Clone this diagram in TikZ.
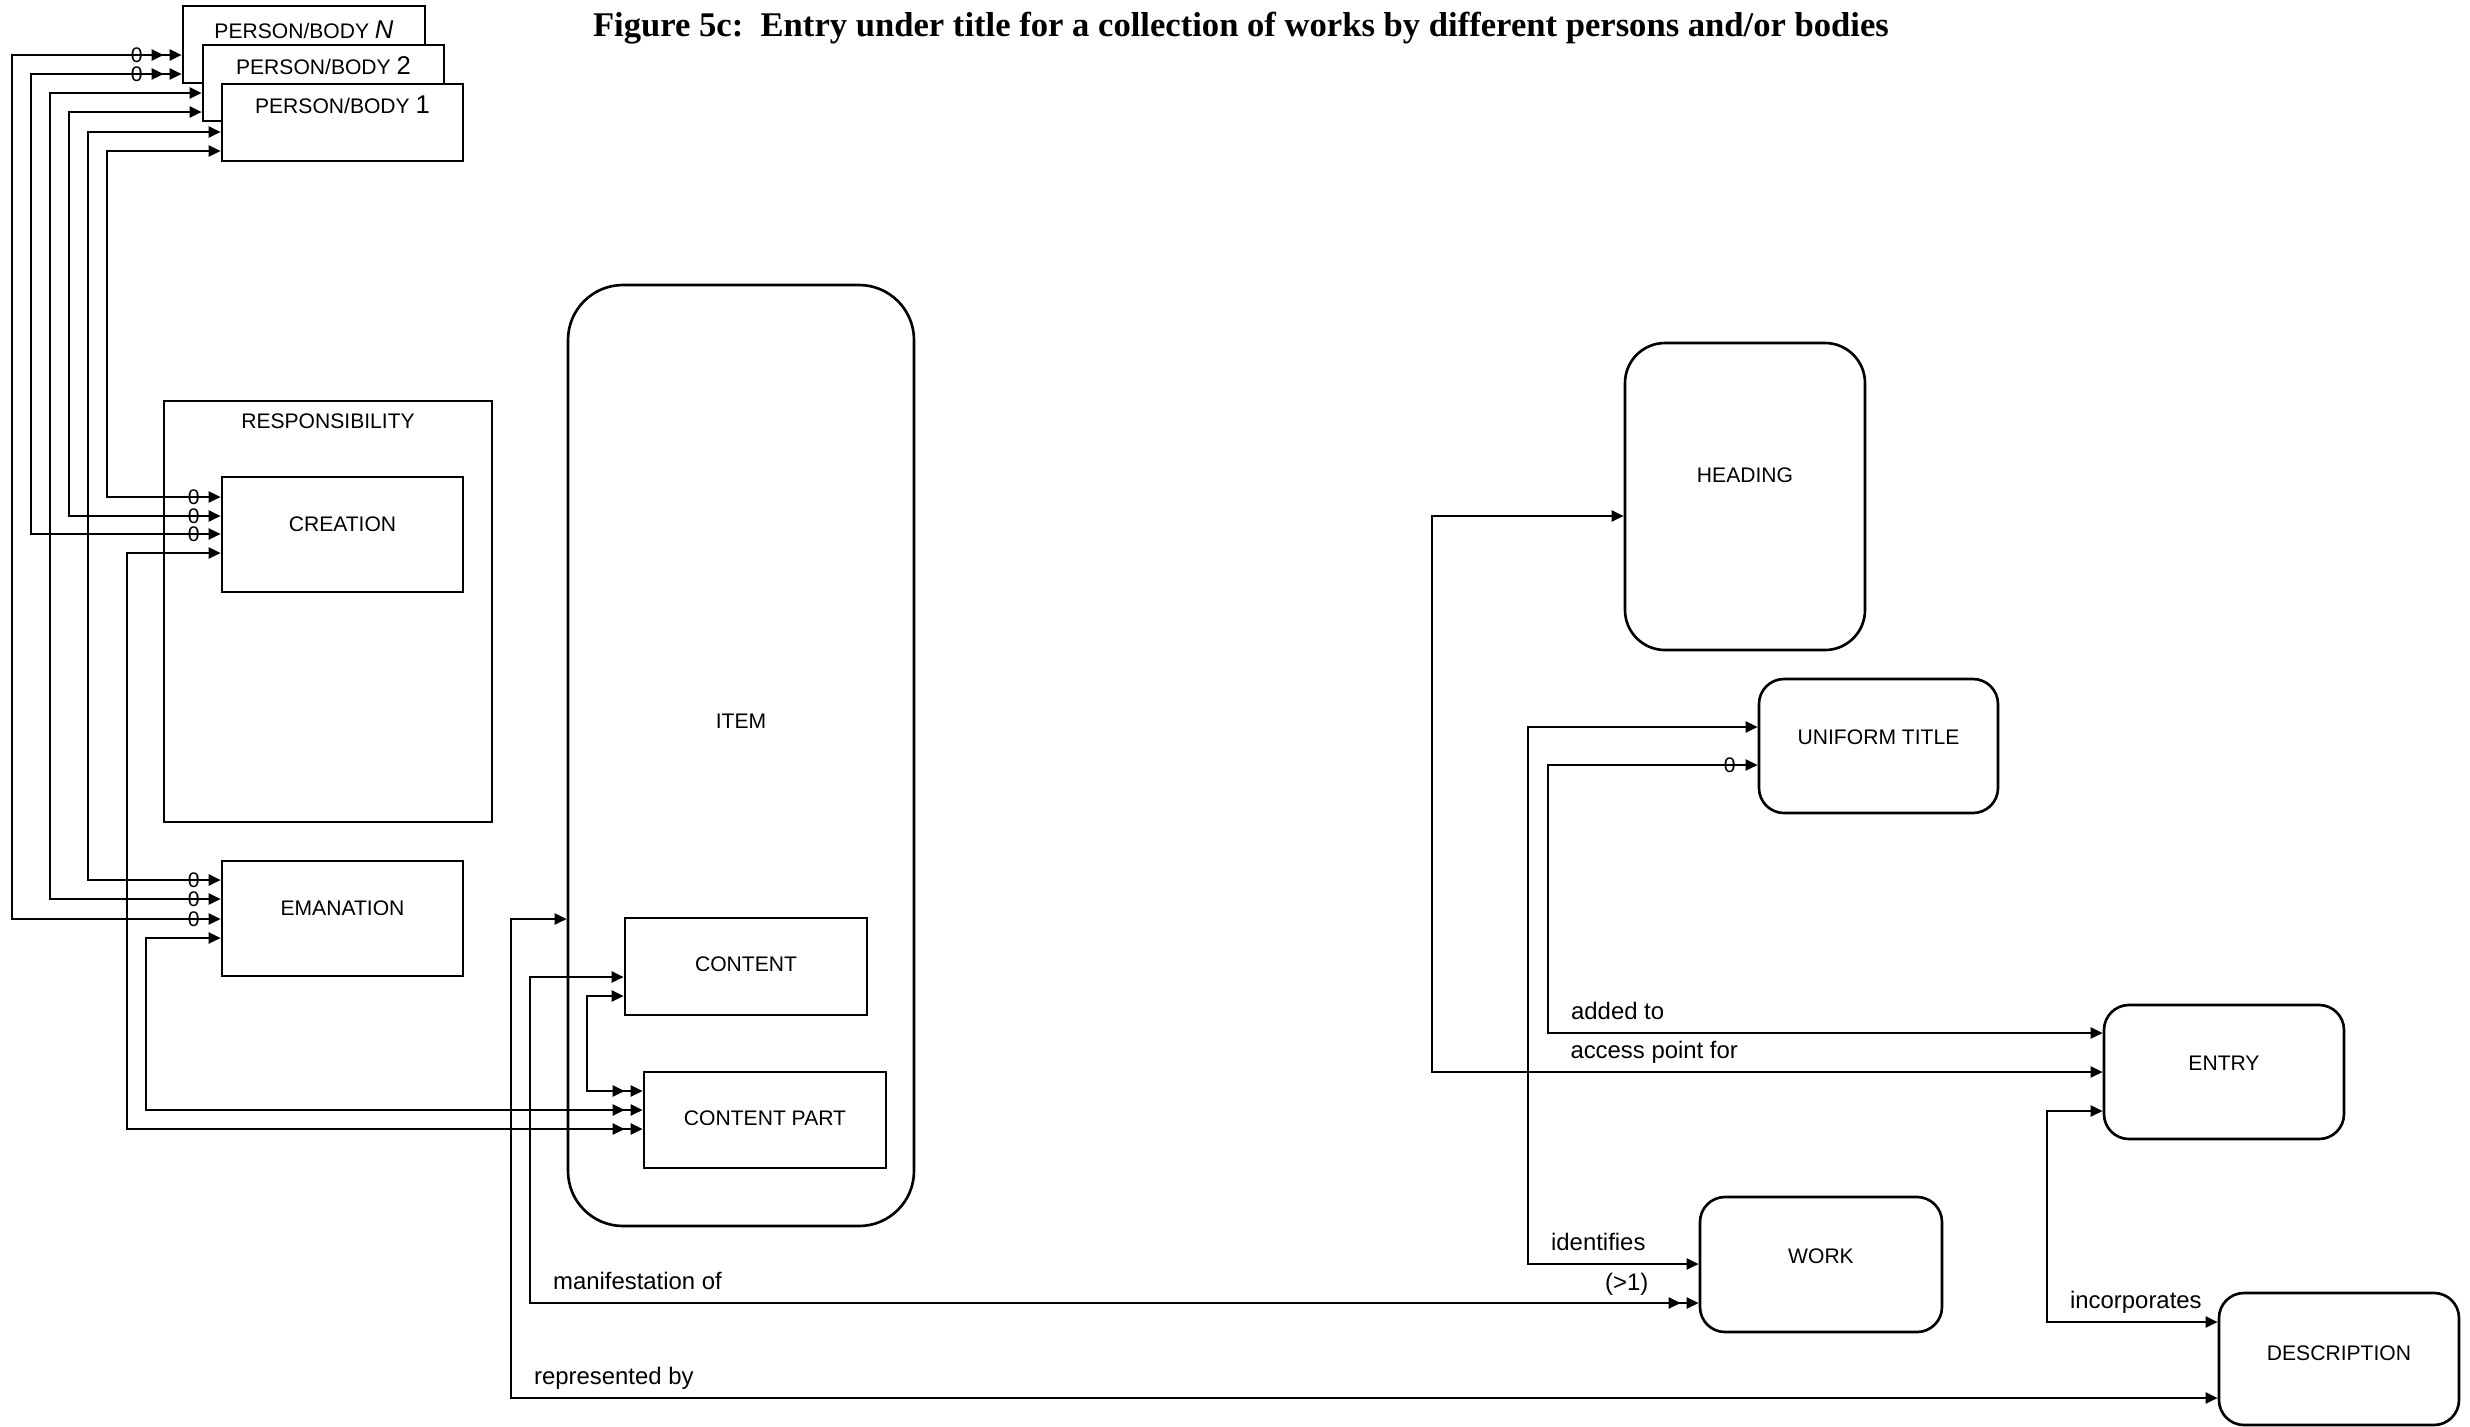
\documentclass[tikz,border=0pt]{standalone}
\usepackage{fontspec}
\setmainfont{Liberation Sans}
\newfontfamily\titlefont{Liberation Serif}
\usetikzlibrary{arrows.meta}
\newcommand\bignum[1]{{\fontsize{7.3}{8}\selectfont #1}}

\begin{document}
\begin{tikzpicture}[x=.1mm,y=-.1mm,line width=.65pt,font=\fontsize{6}{7.2}\selectfont,
  box/.style={draw,fill=white,inner sep=0,line width=.75pt},
  rbox/.style={box,rounded corners=2.5mm},
  txt/.style={inner sep=0},
  zero/.style={inner sep=0,font=\fontsize{6}{6}\selectfont},
  lbl/.style={inner sep=0,anchor=base west,xshift=2.2mm,yshift=1.4mm,font=\fontsize{6.8}{8}\selectfont},
  ss/.style={{Triangle[length=1.2mm,width=1.1mm]}-{Triangle[length=1.2mm,width=1.1mm]}},
  sd/.style={{Triangle[length=1.2mm,width=1.1mm]}-{Triangle[length=1.2mm,width=1.1mm,sep=.6mm]Triangle[length=1.2mm,width=1.1mm]}}]
\useasboundingbox (0,0) rectangle (2470,1427);
\node[anchor=base,font=\titlefont\bfseries\fontsize{9.85}{11}\selectfont] (title) at (1241,36)
  {Figure 5c:~~Entry under title for a collection of works by different persons and/or bodies};
% persons / bodies
\node[box,minimum width=24.2mm,minimum height=7.7mm] (pbN) at (304,44.5) {};
\node[txt] (pbNL) at ([yshift=1.45mm]pbN.center) {PERSON/BODY \bignum{\textit{N}}};
\node[box,minimum width=24.1mm,minimum height=7.6mm] (pb2) at (323.5,83) {};
\node[txt] (pb2L) at ([yshift=1.7mm]pb2.center) {PERSON/BODY \bignum{2}};
\node[box,minimum width=24.1mm,minimum height=7.7mm] (pb1) at (342.5,122.5) {};
\node[txt] (pb1L) at ([yshift=1.8mm]pb1.center) {PERSON/BODY \bignum{1}};
% responsibility
\node[box,minimum width=32.8mm,minimum height=42.1mm] (resp) at (328,611.5) {};
\node[txt] (respL) at ([yshift=19.05mm]resp.center) {RESPONSIBILITY};
\node[box,minimum width=24.1mm,minimum height=11.5mm] (cre) at (342.5,534.5) {};
\node[txt] (creL) at ([yshift=1.05mm]cre.center) {CREATION};
\node[box,minimum width=24.1mm,minimum height=11.5mm] (ema) at (342.5,918.5) {};
\node[txt] (emaL) at ([yshift=1.05mm]ema.center) {EMANATION};
% item
\node[rbox,rounded corners=5.5mm,minimum width=34.6mm,minimum height=94.1mm] (item) at (741,755.5) {};
\node[txt] (itemL) at ([yshift=3.45mm]item.center) {ITEM};
\node[box,minimum width=24.2mm,minimum height=9.7mm] (cont) at (746,966.5) {};
\node[txt] (contL) at ([yshift=.25mm]cont.center) {CONTENT};
\node[box,minimum width=24.2mm,minimum height=9.6mm] (cpart) at (765,1120) {};
\node[txt] (cpartL) at ([yshift=.2mm]cpart.center) {CONTENT PART};
% right hand side
\node[rbox,rounded corners=4mm,minimum width=24mm,minimum height=30.7mm] (head) at (1745,496.5) {};
\node[txt] (headL) at ([yshift=2.15mm]head.center) {HEADING};
\node[rbox,minimum width=23.9mm,minimum height=13.4mm] (utitle) at (1878.5,746) {};
\node[txt] (utitleL) at ([yshift=.9mm]utitle.center) {UNIFORM TITLE};
\node[rbox,minimum width=24mm,minimum height=13.4mm] (entry) at (2224,1072) {};
\node[txt] (entryL) at ([yshift=.9mm]entry.center) {ENTRY};
\node[rbox,minimum width=24.2mm,minimum height=13.5mm] (work) at (1821,1264.5) {};
\node[txt] (workL) at ([yshift=.85mm]work.center) {WORK};
\node[rbox,minimum width=24mm,minimum height=13.2mm] (desc) at (2339,1359) {};
\node[txt] (descL) at ([yshift=.6mm]desc.center) {DESCRIPTION};
% persons to creation and emanation
\draw[sd] (ema.west |- 0,919) node[zero,xshift=-2.7mm] (z1) {0} -- (12,919) |- (pbN.west |- 0,55) node[zero,xshift=-4.5mm] (z2) {0};
\draw[sd] (cre.west |- 0,534) node[zero,xshift=-2.7mm] (z3) {0} -- (31,534) |- (pbN.west |- 0,74) node[zero,xshift=-4.5mm] (z4) {0};
\draw[ss] (ema.west |- 0,899) node[zero,xshift=-2.7mm] (z5) {0} -- (50,899) |- (pb2.west |- 0,93);
\draw[ss] (cre.west |- 0,516) node[zero,xshift=-2.7mm] (z6) {0} -- (69,516) |- (pb2.west |- 0,112);
\draw[ss] (ema.west |- 0,880) node[zero,xshift=-2.7mm] (z7) {0} -- (88,880) |- (pb1.west |- 0,132);
\draw[ss] (cre.west |- 0,497) node[zero,xshift=-2.7mm] (z8) {0} -- (107,497) |- (pb1.west |- 0,151);
% into content part
\draw[sd] (cre.west |- 0,553) -- (127,553) |- (cpart.west |- 0,1129);
\draw[sd] (ema.west |- 0,938) -- (146,938) |- (cpart.west |- 0,1110);
\draw[sd] (cont.west |- 0,996) -- (587,996) |- (cpart.west |- 0,1091);
% item and content
\draw[ss] (item.west |- 0,919) -- (511,919) |- node[lbl] (lrep) {represented by} (desc.west |- 0,1398);
\draw[sd] (cont.west |- 0,977) -- (530,977) |- node[lbl] (lman) {manifestation of} (work.west |- 0,1303)
  node[inner sep=0,anchor=base,xshift=-7.2mm,yshift=1.3mm,font=\fontsize{6.8}{8}\selectfont] (lmore) {(>1)};
% heading, uniform title, entry
\draw[ss] (head.west |- 0,516) -- (1432,516) |- node[lbl,pos=.586] (lacc) {access point for} (entry.west |- 0,1072);
\draw[ss] (utitle.west |- 0,765) node[zero,xshift=-2.8mm] (z9) {0} -- (1548,765) |- node[lbl] (ladd) {added to} (entry.west |- 0,1033);
\draw[ss] (utitle.west |- 0,727) -- (1528,727) |- node[lbl] (lid) {identifies} (work.west |- 0,1264);
\draw[ss] (entry.west |- 0,1111) -- (2047,1111) |- node[lbl] (linc) {incorporates} (desc.west |- 0,1322);
\end{tikzpicture}
\end{document}
